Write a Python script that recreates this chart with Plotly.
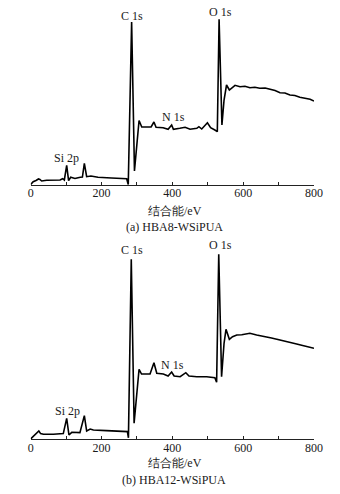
import plotly.graph_objects as go

# ---- data (binding energy eV, intensity a.u.) ----
be_a = [0, 7, 15, 22, 26, 31, 45, 70, 83, 90, 95, 101.6, 107, 113, 125, 140, 146, 151.5, 158, 170,
        190, 228, 260, 271, 275.5, 285, 293, 306, 313.6, 328, 340, 348, 354, 374, 388, 398, 403,
        421, 436, 450, 469, 475, 483, 499, 508, 520, 527, 532, 540, 546, 553, 561, 568, 577, 591,
        605, 619, 633, 647, 662, 676, 690, 704, 718, 732, 746, 760, 774, 789, 800]
int_a = [0.5, 3.3, 4.5, 6, 5.5, 4, 4.7, 4.8, 5, 6.3, 5, 19.7, 4.3, 7.7, 6.5, 7.7, 8, 21.7, 8.3, 9,
         7.7, 7, 6.6, 6.3, 0.5, 163, 14, 64.5, 58, 57.7, 58, 63, 57.7, 57.3, 55.7, 60, 55.7,
         56.7, 57.7, 55.7, 56.7, 58.3, 56, 62.3, 57.3, 55, 53.3, 165.7, 60, 85, 100, 95, 96.7, 99.7, 98.3,
         98.8, 97.3, 97.8, 96.7, 97, 95.7, 94.5, 92.3, 92, 90, 89.5, 87.7, 86.8, 85.7, 84]

be_b = [0, 9, 18, 23, 28, 36, 64, 85, 92, 101.6, 108, 116, 139, 151.5, 158, 168, 177, 214, 252, 273,
        276, 284, 292, 306, 313, 337, 348, 356, 374.5, 388, 398, 405, 422, 438, 447, 469, 497, 511,
        520, 525, 531, 539, 546, 551.5, 561, 570, 582, 596, 610, 619, 638, 652, 666, 680, 695, 709,
        723, 737, 751, 765, 779, 800]
int_b = [0.5, 3.3, 6, 8.3, 5.7, 5, 5, 5.2, 5.7, 21, 4.3, 7, 6.7, 23.7, 8.3, 10.3, 9.3, 8.7, 8, 7.7,
         1.5, 180, 16, 70, 65.3, 65.3, 76.6, 66, 65.3, 63.3, 67.3, 63.3, 62.6, 66.6, 63.3, 62.6, 62.6, 62,
         61.6, 57, 185, 62.6, 96, 110, 100, 102.6, 104.3, 104.6, 105, 106, 104.3, 103.5, 102, 101.3, 100, 99,
         97.6, 96.8, 95.3, 94, 92.6, 91]

tick_vals = [0, 200, 400, 600, 800]
tick_text = ["0", "200", "400", "600", "800"]
minor_vals = [100, 300, 500, 700]
xlabel = "结合能/eV"
captions = ["(a) HBA8-WSiPUA", "(b) HBA12-WSiPUA"]
peaks_a = [("C 1s", 285, 169.5), ("O 1s", 534.6, 172.8), ("N 1s", 402.8, 68), ("Si 2p", 100, 26.7)]
peaks_b = [("C 1s", 285, 189.3), ("O 1s", 534.6, 194.3), ("N 1s", 400.4, 74.8), ("Si 2p", 103, 28.5)]

W, H = 340, 494
FONT = "Liberation Serif"
TXT = "#1a1a1a"

fig = go.Figure()
fig.add_trace(go.Scatter(x=be_a, y=int_a, mode="lines", line=dict(color="black", width=1.6),
                         xaxis="x", yaxis="y", showlegend=False, hoverinfo="skip"))
fig.add_trace(go.Scatter(x=be_b, y=int_b, mode="lines", line=dict(color="black", width=1.6),
                         xaxis="x2", yaxis="y2", showlegend=False, hoverinfo="skip"))

xdom = [30.7 / W, 314 / W]
axis_common = dict(range=[0, 800], showgrid=False, zeroline=False, showline=True, linecolor="#222",
                   linewidth=1, ticks="inside", ticklen=3, tickcolor="#222",
                   tickvals=tick_vals, ticktext=tick_text, ticklabelstandoff=-3,
                   minor=dict(tickvals=minor_vals, ticks="inside", ticklen=3, tickcolor="#222"),
                   tickfont=dict(family=FONT, size=12, color=TXT), fixedrange=True)

fig.update_layout(
    width=W, height=H, autosize=False, margin=dict(l=0, r=0, t=0, b=0, autoexpand=False),
    paper_bgcolor="white", plot_bgcolor="white",
    font=dict(family=FONT, size=12, color=TXT),
    xaxis=dict(domain=xdom, anchor="y", **axis_common),
    xaxis2=dict(domain=xdom, anchor="y2", **axis_common),
    yaxis=dict(domain=[1 - 185 / H, 1 - 5 / H], range=[0, 180], visible=False, anchor="x", fixedrange=True),
    yaxis2=dict(domain=[1 - 439.3 / H, 1 - 239.3 / H], range=[0, 200], visible=False, anchor="x2", fixedrange=True),
)

ann = []
for (t, x, y) in peaks_a:
    ann.append(dict(text=t, x=x, y=y, xref="x", yref="y", showarrow=False,
                    font=dict(family=FONT, size=12, color=TXT), xanchor="center", yanchor="middle"))
for (t, x, y) in peaks_b:
    ann.append(dict(text=t, x=x, y=y, xref="x2", yref="y2", showarrow=False,
                    font=dict(family=FONT, size=12, color=TXT), xanchor="center", yanchor="middle"))

for (txt, px, py) in [(xlabel, 174.7, 210.5), (captions[0], 174.5, 227),
                      (xlabel, 174.7, 462.5), (captions[1], 173.7, 479.5)]:
    ann.append(dict(text=txt, x=px / W, y=1 - py / H, xref="paper", yref="paper", showarrow=False,
                    font=dict(family=FONT, size=12, color=TXT), xanchor="center", yanchor="middle"))

fig.update_layout(annotations=ann)
fig.write_html("out.html",
               config={"responsive": False, "displayModeBar": False, "staticPlot": True},
               post_script="document.body.style.margin='0';document.body.style.overflow='hidden';")
